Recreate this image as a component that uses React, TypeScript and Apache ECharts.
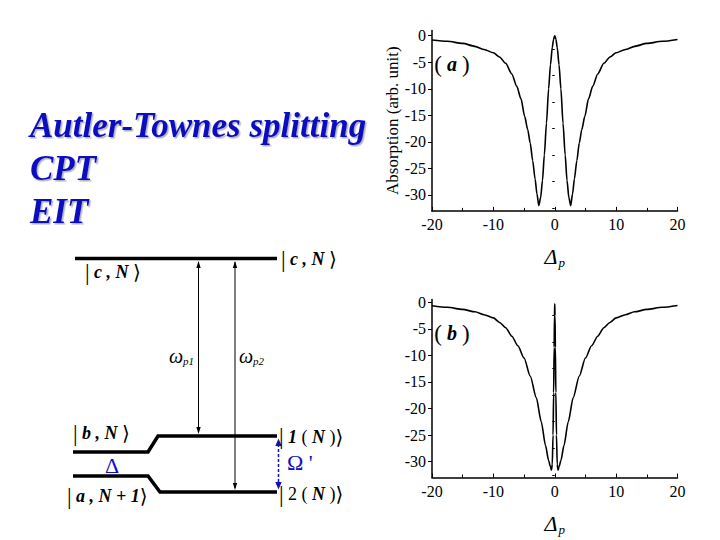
import React, { useEffect, useRef } from "react";
import * as echarts from "echarts";

// ---- Data ----
// (a) Autler-Townes splitting: absorption vs probe detuning
const xA = [-20, -17.5, -15, -13, -11.5, -10, -9, -8, -7, -6.2, -5.5, -4.9, -4.4, -4.0, -3.6, -3.2, -2.9, -2.6, -2.3, -2.0, -1.7, -1.35, -1.0, -0.7, -0.4, -0.2, 0,
  0.2, 0.4, 0.7, 1.0, 1.35, 1.7, 2.0, 2.3, 2.6, 2.9, 3.2, 3.6, 4.0, 4.4, 4.9, 5.5, 6.2, 7, 8, 9, 10, 11.5, 13, 15, 17.5, 20];
const yA = [-0.8, -1.05, -1.45, -2.0, -2.6, -3.2, -4.0, -5.2, -7.2, -9.5, -11.9, -15.2, -17.7, -20.2, -23.5, -27.0, -29.8, -32.0, -30.5, -27.3, -22.5, -16.5, -10.0, -5.5, -2.2, -0.7, 0,
  -0.7, -2.2, -5.5, -10.0, -16.5, -22.5, -27.3, -30.5, -32.0, -29.8, -27.0, -23.5, -20.2, -17.7, -15.2, -11.9, -9.5, -7.2, -5.2, -4.0, -3.2, -2.6, -2.0, -1.45, -1.05, -0.7];
// (b) EIT: broad dip with narrow transparency window
const xB = [-20, -17.5, -15, -13, -11.5, -10, -9, -8, -7, -6, -5, -4, -3, -2.2, -1.5, -1.0, -0.7, -0.54, -0.4, -0.28, -0.18, -0.1, -0.04, 0,
  0.04, 0.1, 0.18, 0.28, 0.4, 0.54, 0.7, 1.0, 1.5, 2.2, 3, 4, 5, 6, 7, 8, 9, 10, 11.5, 13, 15, 17.5, 20];
const yB = [-0.65, -0.95, -1.35, -1.8, -2.35, -2.95, -3.8, -4.8, -6.4, -8.2, -10.5, -13.9, -18.0, -22.5, -27.0, -29.8, -31.0, -31.6, -30.5, -25.0, -17.0, -8.5, -2.5, -0.3,
  -2.5, -8.5, -17.0, -25.0, -30.5, -31.6, -31.0, -29.8, -27.0, -22.5, -18.0, -13.9, -10.5, -8.2, -6.4, -4.8, -3.8, -2.95, -2.35, -1.8, -1.35, -0.95, -0.6];

const yMajor = [-30, -25, -20, -15, -10, -5, 0];
const yMinor = [-32.5, -27.5, -22.5, -17.5, -12.5, -7.5, -2.5];
const xTicks = [-20, -10, 0, 10, 20];

const headlines = ["Autler-Townes splitting", "CPT", "EIT"];

const SERIF = '"Liberation Serif", "Times New Roman", serif';
const BLUE = "#1010c0";

export default function App() {
  const ref = useRef<HTMLDivElement>(null);
  useEffect(() => {
    if (!ref.current) return;
    const chart = echarts.init(ref.current, undefined, { renderer: "svg" });

    const grids = [
      { left: 432, top: 30.4, width: 245.5, height: 180.5 },
      { left: 432, top: 299.6, width: 245.5, height: 177.9 },
    ];
    const maxes = [1, 0.5];

    const nameRich = {
      d: { fontFamily: SERIF, fontStyle: "italic", fontSize: 22, color: "#000" },
      s: { fontFamily: SERIF, fontStyle: "italic", fontSize: 13, color: "#000", padding: [12, 0, 0, 1] },
    };

    const xAxis = [0, 1].map((i) => ({
      type: "value",
      gridIndex: i,
      min: xTicks[0],
      max: xTicks[xTicks.length - 1],
      interval: 10,
      axisLine: { show: true, onZero: false, lineStyle: { color: "#000", width: 1.5 } },
      axisTick: { show: true, inside: true, length: 4, lineStyle: { color: "#000", width: 1 } },
      minorTick: { show: true, splitNumber: 2, length: 3, lineStyle: { color: "#000", width: 1 } },
      axisLabel: { color: "#000", fontFamily: SERIF, fontSize: 16, margin: 6 },
      splitLine: { show: false },
      minorSplitLine: { show: false },
      name: "{d|Δ}{s|p}",
      nameLocation: "middle",
      nameGap: 33,
      nameTextStyle: { rich: nameRich },
    }));

    const yAxis: any[] = [];
    [0, 1].forEach((i) => {
      yAxis.push({
        type: "value",
        gridIndex: i,
        position: "left",
        min: -33,
        max: maxes[i],
        axisLine: { show: true, onZero: false, lineStyle: { color: "#000", width: 1.5 } },
        axisTick: { show: true, inside: false, length: 4, customValues: yMajor, lineStyle: { color: "#000", width: 1 } },
        axisLabel: { color: "#000", fontFamily: SERIF, fontSize: 16, margin: 6, customValues: yMajor },
        splitLine: { show: false },
        name: i === 0 ? "Absorption (arb. unit)" : "",
        nameLocation: "middle",
        nameGap: 31,
        nameTextStyle: { fontFamily: SERIF, fontSize: 17, color: "#000" },
      });
      yAxis.push({
        type: "value",
        gridIndex: i,
        position: "left",
        min: -33,
        max: maxes[i],
        axisLine: { show: false },
        axisTick: { show: true, inside: false, length: 2.5, customValues: yMinor, lineStyle: { color: "#000", width: 1 } },
        axisLabel: { show: false },
        splitLine: { show: false },
      });
    });

    const series = [
      { x: xA, y: yA, g: 0 },
      { x: xB, y: yB, g: 1 },
    ].map((s) => ({
      type: "line",
      xAxisIndex: s.g,
      yAxisIndex: s.g * 2,
      data: s.x.map((v, k) => [v, s.y[k]]),
      showSymbol: false,
      smooth: 0.25,
      smoothMonotone: "x",
      lineStyle: { color: "#000", width: 1.6 },
      silent: true,
    }));

    const ket = (text: string, x: number, y: number) => ({
      type: "text",
      x,
      y,
      style: {
        text,
        verticalAlign: "middle",
        rich: {
          b: { fontFamily: SERIF, fontSize: 23, color: "#999", fontWeight: "normal" },
          t: { fontFamily: SERIF, fontSize: 18, fontStyle: "italic", fontWeight: "bold", color: "#000" },
          u: { fontFamily: SERIF, fontSize: 18, color: "#000" },
          a: { fontFamily: '"DejaVu Sans", sans-serif', fontSize: 20, color: "#333" },
        },
      },
    });

    const lvl = { stroke: "#000", lineWidth: 3.5, fill: null };
    const thin = { stroke: "#000", lineWidth: 1 };

    const graphic: any[] = [
      ...headlines.map((t, i) => ({
        type: "text",
        x: 30,
        y: 125 + i * 43,
        style: {
          text: t,
          verticalAlign: "middle",
          font: `italic bold 35px ${SERIF}`,
          fill: BLUE,
          textShadowColor: "rgba(0,0,0,0.3)",
          textShadowOffsetX: 1.5,
          textShadowOffsetY: 1.5,
          textShadowBlur: 1,
        },
      })),
      { type: "text", x: 452, y: 64, style: { text: "{p|(}{a| a }{p|)}", align: "center", verticalAlign: "middle", rich: { p: { fontFamily: SERIF, fontSize: 23, color: "#000" }, a: { fontFamily: SERIF, fontSize: 20, fontStyle: "italic", fontWeight: "bold", color: "#000" } } } },
      { type: "text", x: 452, y: 333, style: { text: "{p|(}{a| b }{p|)}", align: "center", verticalAlign: "middle", rich: { p: { fontFamily: SERIF, fontSize: 23, color: "#000" }, a: { fontFamily: SERIF, fontSize: 20, fontStyle: "italic", fontWeight: "bold", color: "#000" } } } },

      // energy levels
      { type: "line", shape: { x1: 75, y1: 258.5, x2: 277, y2: 258.5 }, style: lvl },
      { type: "polyline", shape: { points: [[73, 452], [148, 452], [158, 436], [277, 436]] }, style: lvl },
      { type: "polyline", shape: { points: [[73, 476], [148, 476], [160, 492], [277, 492]] }, style: lvl },

      // omega_p1 arrow
      { type: "line", shape: { x1: 198.5, y1: 262, x2: 198.5, y2: 432 }, style: thin },
      { type: "polygon", shape: { points: [[198.5, 261], [196.3, 268], [200.7, 268]] }, style: { fill: "#000" } },
      { type: "polygon", shape: { points: [[198.5, 434], [196.3, 427], [200.7, 427]] }, style: { fill: "#000" } },
      // omega_p2 arrow
      { type: "line", shape: { x1: 235, y1: 262, x2: 235, y2: 488 }, style: thin },
      { type: "polygon", shape: { points: [[235, 261], [232.8, 268], [237.2, 268]] }, style: { fill: "#000" } },
      { type: "polygon", shape: { points: [[235, 490], [232.8, 483], [237.2, 483]] }, style: { fill: "#000" } },
      // Omega' dashed arrow
      { type: "line", shape: { x1: 278.5, y1: 444, x2: 278.5, y2: 484 }, style: { stroke: BLUE, lineWidth: 1.5, lineDash: [3, 2] } },
      { type: "polygon", shape: { points: [[278.5, 438.5], [275.3, 446], [281.7, 446]] }, style: { fill: BLUE } },
      { type: "polygon", shape: { points: [[278.5, 489.5], [275.3, 482], [281.7, 482]] }, style: { fill: BLUE } },

      // labels
      ket("{b||}{t| c , N }{a|⟩}", 85, 272),
      ket("{b||}{t| c , N }{a|⟩}", 281, 259),
      ket("{b||}{t| b , N }{a|⟩}", 73, 433),
      ket("{b||}{t| a , N + 1}{a|⟩}", 67, 496),
      ket("{b||}{t| 1}{u| ( }{t|N}{u| )}{a|⟩}", 279, 436.5),
      ket("{b||}{u| 2 ( }{t|N}{u| )}{a|⟩}", 279, 494),
      { type: "text", x: 112, y: 465, style: { text: "Δ", align: "center", verticalAlign: "middle", font: `22px ${SERIF}`, fill: BLUE } },
      { type: "text", x: 287, y: 462, style: { text: "Ω '", verticalAlign: "middle", font: `22px ${SERIF}`, fill: BLUE } },
      { type: "text", x: 169, y: 356, style: { text: "ω", verticalAlign: "middle", font: `italic 20px ${SERIF}`, fill: "#000" } },
      { type: "text", x: 183, y: 361, style: { text: "p1", verticalAlign: "middle", font: `italic 11px ${SERIF}`, fill: "#000" } },
      { type: "text", x: 239, y: 356, style: { text: "ω", verticalAlign: "middle", font: `italic 20px ${SERIF}`, fill: "#000" } },
      { type: "text", x: 253, y: 361, style: { text: "p2", verticalAlign: "middle", font: `italic 11px ${SERIF}`, fill: "#000" } },
    ];

    chart.setOption({
      animation: false,
      backgroundColor: "#fff",
      grid: grids,
      xAxis,
      yAxis,
      series,
      graphic,
    } as any);
    return () => chart.dispose();
  }, []);

  return (
    <div
      ref={ref}
      style={{ position: "fixed", left: 0, top: 0, width: 720, height: 540, background: "#fff" }}
    />
  );
}
